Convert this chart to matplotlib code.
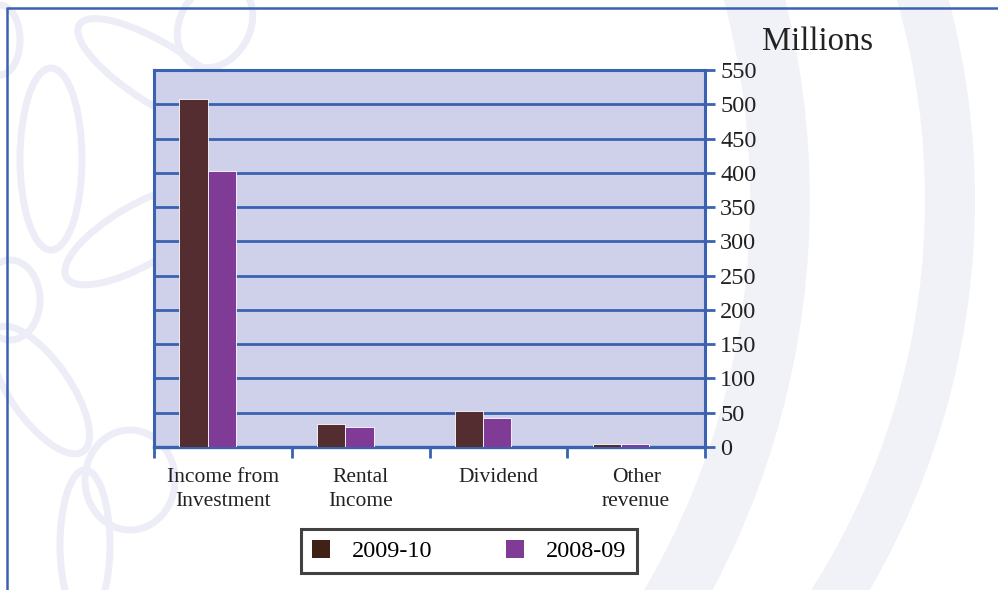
import matplotlib
matplotlib.use("Agg")
import matplotlib.pyplot as plt
import numpy as np
from matplotlib.patches import Patch, Ellipse, Arc

categories = ["Income from\nInvestment", "Rental\nIncome", "Dividend", "Other\nrevenue"]
series_names = ["2009-10", "2008-09"]
values_2009_10 = [507, 33, 52, 4]
values_2008_09 = [403, 29, 43, 5]
y_ticks = [0, 50, 100, 150, 200, 250, 300, 350, 400, 450, 500, 550]

bar_colors = ["#542d31", "#7f3b95"]
legend_colors = ["#3f2215", "#7f3b95"]
blue = "#3a62b0"
wm = "#ecedf7"

plt.rcParams["font.family"] = ["Liberation Serif", "DejaVu Serif"]

W, H = 998, 590
fig = plt.figure(figsize=(W / 100, H / 100), dpi=100)

# background overlay for watermark and frame lines (pixel coordinates)
bg = fig.add_axes([0, 0, 1, 1], zorder=0)
bg.set_xlim(0, W)
bg.set_ylim(H, 0)
bg.axis("off")

# large right-hand bands
bg.add_patch(Arc((-20, 200), 1600, 1600, theta1=-60, theta2=60, color="#f1f2f8", lw=43))
bg.add_patch(Arc((200, 200), 1500, 1500, theta1=-60, theta2=60, color="#f1f2f8", lw=36))

# flower-like outlines on the left
shapes = [
    ((51, 159), 62, 182, 0),
    ((160, 75), 190, 60, 32),
    ((140, 235), 170, 60, -30),
    ((0, 40), 40, 70, 0),
    ((10, 300), 60, 80, 0),
    ((40, 390), 150, 60, 55),
    ((130, 480), 90, 100, 0),
    ((85, 545), 50, 150, 0),
    ((215, 25), 70, 90, 30),
]
for (cx, cy), w, h, ang in shapes:
    bg.add_patch(Ellipse((cx, cy), w, h, angle=ang, fill=False, ec=wm, lw=5))

# frame lines
bg.plot([7, W], [7.5, 7.5], color=blue, lw=1.8, solid_capstyle="butt")
bg.plot([7.5, 7.5], [7, H], color=blue, lw=1.8, solid_capstyle="butt")

# main axes
L, R, T, B = 154, 705, 70, 447
ax = fig.add_axes([L / W, 1 - B / H, (R - L) / W, (B - T) / H], zorder=2)
ax.set_facecolor("#cfd1eb")

x = np.arange(len(categories))
bw = 0.205
off = -0.11
ax.bar(x + off - bw / 2, values_2009_10, bw, color=bar_colors[0], edgecolor="white", linewidth=0.6, zorder=3)
ax.bar(x + off + bw / 2, values_2008_09, bw, color=bar_colors[1], edgecolor="white", linewidth=0.6, zorder=3)

ax.set_xlim(-0.5, len(categories) - 0.5)
ax.set_ylim(0, 550)
ax.yaxis.tick_right()
ax.set_yticks(y_ticks)
ax.set_yticklabels([str(t) for t in y_ticks], fontsize=17.5, color="#222222")
ax.tick_params(axis="y", direction="out", length=7, width=2, color=blue, pad=4)
ax.grid(axis="y", color=blue, lw=2, zorder=1)
ax.set_axisbelow(True)

# category ticks at boundaries, labels at centers
ax.set_xticks(np.arange(-0.5, len(categories), 1.0))
ax.set_xticklabels([])
ax.set_xticks(x, minor=True)
ax.set_xticklabels(categories, minor=True, fontsize=15.5, color="#222222", linespacing=1.4)
ax.tick_params(axis="x", which="major", direction="out", length=8, width=2, color=blue)
ax.tick_params(axis="x", which="minor", length=0, pad=15)

for s in ["left", "top", "right"]:
    ax.spines[s].set_color(blue)
    ax.spines[s].set_linewidth(2.2)
ax.spines["bottom"].set_color(blue)
ax.spines["bottom"].set_linewidth(2.4)

fig.text(762 / W, 1 - 50 / H, "Millions", fontsize=23.5, color="#222222", ha="left", va="baseline")

handles = [Patch(facecolor=legend_colors[i], edgecolor="none") for i in range(2)]
leg = fig.legend(handles, series_names, loc="center", bbox_to_anchor=(469 / W, 1 - 551 / H),
                 ncol=2, fontsize=17.5, frameon=True, fancybox=False, edgecolor="#111111",
                 handlelength=0.75, handleheight=0.75, columnspacing=3.0, handletextpad=0.9,
                 borderpad=0.45, borderaxespad=0)
leg.get_frame().set_linewidth(2.2)
leg.set_zorder(5)

fig.savefig("out.png", dpi=100)
